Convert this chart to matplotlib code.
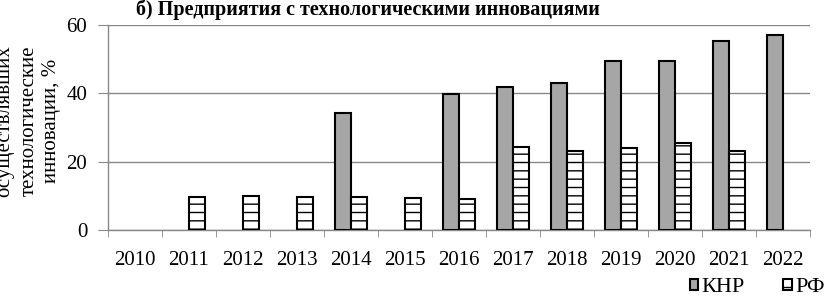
import matplotlib.pyplot as plt
import numpy as np

years = ["2010", "2011", "2012", "2013", "2014", "2015", "2016",
         "2017", "2018", "2019", "2020", "2021", "2022"]
nan = np.nan
knr = [nan, nan, nan, nan, 34.2, nan, 39.8, 41.9, 43.0, 49.5, 49.5, 55.3, 57.1]
rf = [nan, 9.6, 9.9, 9.6, 9.6, 9.5, 9.2, 24.2, 23.1, 24.1, 25.4, 23.2, nan]
yticks = [0, 20, 40, 60]

plt.rcParams["font.family"] = ["Liberation Serif", "DejaVu Serif"]
plt.rcParams["hatch.color"] = "#999999"
plt.rcParams["hatch.linewidth"] = 1.0

fig = plt.figure(figsize=(8.29, 2.97), dpi=100)
ax = fig.add_axes([108 / 829, 1 - 230 / 297, (810 - 108) / 829, 205 / 297])

x = np.arange(len(years))
w = 0.29
ax.bar(x - w / 2, knr, w, color="#a6a6a6", edgecolor="black", linewidth=1.5,
       zorder=3, label="КНР")
ax.bar(x + w / 2, rf, w, color="white", edgecolor="black", linewidth=1.5,
       hatch="--", zorder=3, label="РФ")

ax.set_xlim(-0.5, len(years) - 0.5)
ax.set_ylim(0, 60)
ax.set_yticks(yticks)
ax.set_xticks(x)
ax.set_xticklabels(years, fontsize=15)
ax.set_xticks(np.arange(-0.5, len(years)), minor=True)
ax.tick_params(axis="x", which="major", length=0, pad=15)
ax.tick_params(axis="x", which="minor", length=5, color="#888888")
ax.tick_params(axis="y", length=7, color="#888888", labelsize=15, pad=8)
ax.grid(axis="y", color="#888888", linewidth=1, zorder=0)
for s in ["top", "right"]:
    ax.spines[s].set_visible(False)
for s in ["left", "bottom"]:
    ax.spines[s].set_color("#888888")
    ax.spines[s].set_linewidth(1)

fig.text(368 / 829, 1 - 10 / 297, "б) Предприятия с технологическими инновациями",
         ha="center", va="center", fontsize=14.5, fontweight="bold")

for xp, line in [(5, "осуществлявших"), (29, "технологические"), (52, "инновации, %")]:
    fig.text(xp / 829, 1 - 121 / 297, line, rotation=90, ha="center", va="center",
             fontsize=15)

fig.legend(loc="center right", bbox_to_anchor=(1.008, 1 - 288 / 297), ncol=2,
           frameon=False, fontsize=16, handlelength=0.4, handleheight=0.4,
           handletextpad=0.15, columnspacing=1.7, borderpad=0)

fig.savefig("out.png", dpi=100)
